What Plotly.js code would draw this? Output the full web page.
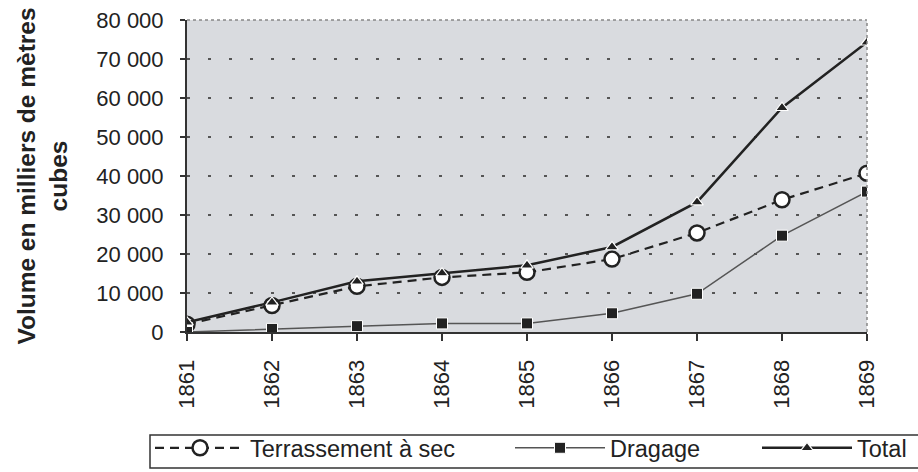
<!DOCTYPE html>
<html>
<head>
<meta charset="utf-8">
<script src="https://cdn.plot.ly/plotly-3.0.1.min.js"></script>
<style>
  html, body { margin: 0; padding: 0; background: #ffffff; }
  #chart { width: 918px; height: 472px; }
</style>
</head>
<body>
<div id="chart"></div>
<script>
// ---- Data ----
const years = [1861, 1862, 1863, 1864, 1865, 1866, 1867, 1868, 1869];
const yearLabels = ['1861', '1862', '1863', '1864', '1865', '1866', '1867', '1868', '1869'];
const terrassement = [2000, 6800, 11700, 14000, 15300, 18700, 25400, 33900, 40700];
const dragage = [0, 800, 1500, 2200, 2200, 4800, 9800, 24700, 36000];
const total = [2500, 7600, 13000, 15100, 17100, 21800, 33300, 57500, 74300];
const seriesNames = ['Terrassement à sec', 'Dragage', 'Total'];
const yTitle = 'Volume en milliers de mètres<br>cubes';

// ---- Layout geometry (pixels) ----
const W = 918, H = 472;
const mL = 187, mR = 51, mT = 20, mB = 140;
const plotW = W - mL - mR, plotH = H - mT - mB;
const px = x => (x - mL) / plotW;           // pixel x -> paper x
const py = y => (H - mB - y) / plotH;        // pixel y -> paper y
const cx = x => x / W;                       // pixel x -> container x
const cy = y => 1 - y / H;                   // pixel y -> container y

const FONT = 'Arial, "Liberation Sans", Helvetica, sans-serif';
const INK = '#222222';

const traces = [
  {
    x: years, y: terrassement, name: seriesNames[0], type: 'scatter', mode: 'lines+markers',
    line: { color: INK, width: 2.2, dash: '9px,6px' },
    marker: { symbol: 'circle', size: 15, color: '#ffffff', line: { color: INK, width: 2.5 } },
    legend: 'legend'
  },
  {
    x: years, y: dragage, name: seriesNames[1], type: 'scatter', mode: 'lines+markers',
    line: { color: '#555555', width: 1.5 },
    marker: { symbol: 'square', size: 11, color: INK, line: { color: '#ffffff', width: 1 } },
    legend: 'legend2'
  },
  {
    x: years, y: total, name: seriesNames[2], type: 'scatter', mode: 'lines+markers',
    line: { color: INK, width: 2.5 },
    marker: { symbol: 'triangle-up', size: 11, color: INK, line: { color: '#ffffff', width: 1.2 } },
    legend: 'legend3'
  }
];

const legendBase = {
  orientation: 'h', yanchor: 'middle', xanchor: 'left',
  xref: 'container', yref: 'container',
  bgcolor: 'rgba(0,0,0,0)', borderwidth: 0,
  font: { family: FONT, size: 23.5, color: INK },
  itemwidth: 90
};

const layout = {
  width: W, height: H,
  margin: { l: mL, r: mR, t: mT, b: mB, pad: 0, autoexpand: false },
  paper_bgcolor: '#ffffff',
  plot_bgcolor: '#d9dbdf',
  separators: ', ',
  showlegend: true,
  font: { family: FONT, color: INK },
  xaxis: {
    range: [1861, 1869],
    tickvals: years, ticktext: yearLabels,
    tickangle: -90,
    tickfont: { family: FONT, size: 22, color: INK },
    showgrid: false, zeroline: false,
    showline: true, linecolor: '#333333', linewidth: 2,
    ticks: 'outside', ticklen: 7, tickcolor: '#333333', tickwidth: 1.5,
    ticklabelstandoff: 10,
    automargin: false
  },
  yaxis: {
    range: [0, 80000],
    dtick: 10000, tick0: 0,
    tickformat: ',d',
    tickfont: { family: FONT, size: 22, color: INK },
    showgrid: true, gridcolor: '#555555', gridwidth: 2, griddash: '3px,18px',
    zeroline: false,
    showline: true, linecolor: '#333333', linewidth: 2,
    ticks: 'outside', ticklen: 5, tickcolor: '#333333', tickwidth: 1.5,
    ticklabelstandoff: 12,
    automargin: false,
    title: { text: yTitle, font: { family: FONT, size: 24.5, color: INK, weight: 'bold' }, standoff: 22 }
  },
  legend:  Object.assign({}, legendBase, { x: cx(150), y: cy(448) }),
  legend2: Object.assign({}, legendBase, { x: cx(510), y: cy(448) }),
  legend3: Object.assign({}, legendBase, { x: cx(757), y: cy(448) }),
  shapes: [
    // faint dotted top and right borders of the plot area
    { type: 'line', xref: 'paper', yref: 'paper', x0: 0, x1: 1, y0: 1, y1: 1,
      line: { color: '#888888', width: 1.5, dash: 'dot' } },
    { type: 'line', xref: 'paper', yref: 'paper', x0: 1, x1: 1, y0: 0, y1: 1,
      line: { color: '#888888', width: 1.5, dash: 'dot' } },
    // legend frame
    { type: 'rect', xref: 'paper', yref: 'paper', x0: px(150), x1: px(930), y0: py(435), y1: py(468),
      line: { color: '#333333', width: 1.5 }, fillcolor: 'rgba(0,0,0,0)' }
  ]
};

Plotly.newPlot('chart', traces, layout, { displayModeBar: false, staticPlot: true });
</script>
</body>
</html>
